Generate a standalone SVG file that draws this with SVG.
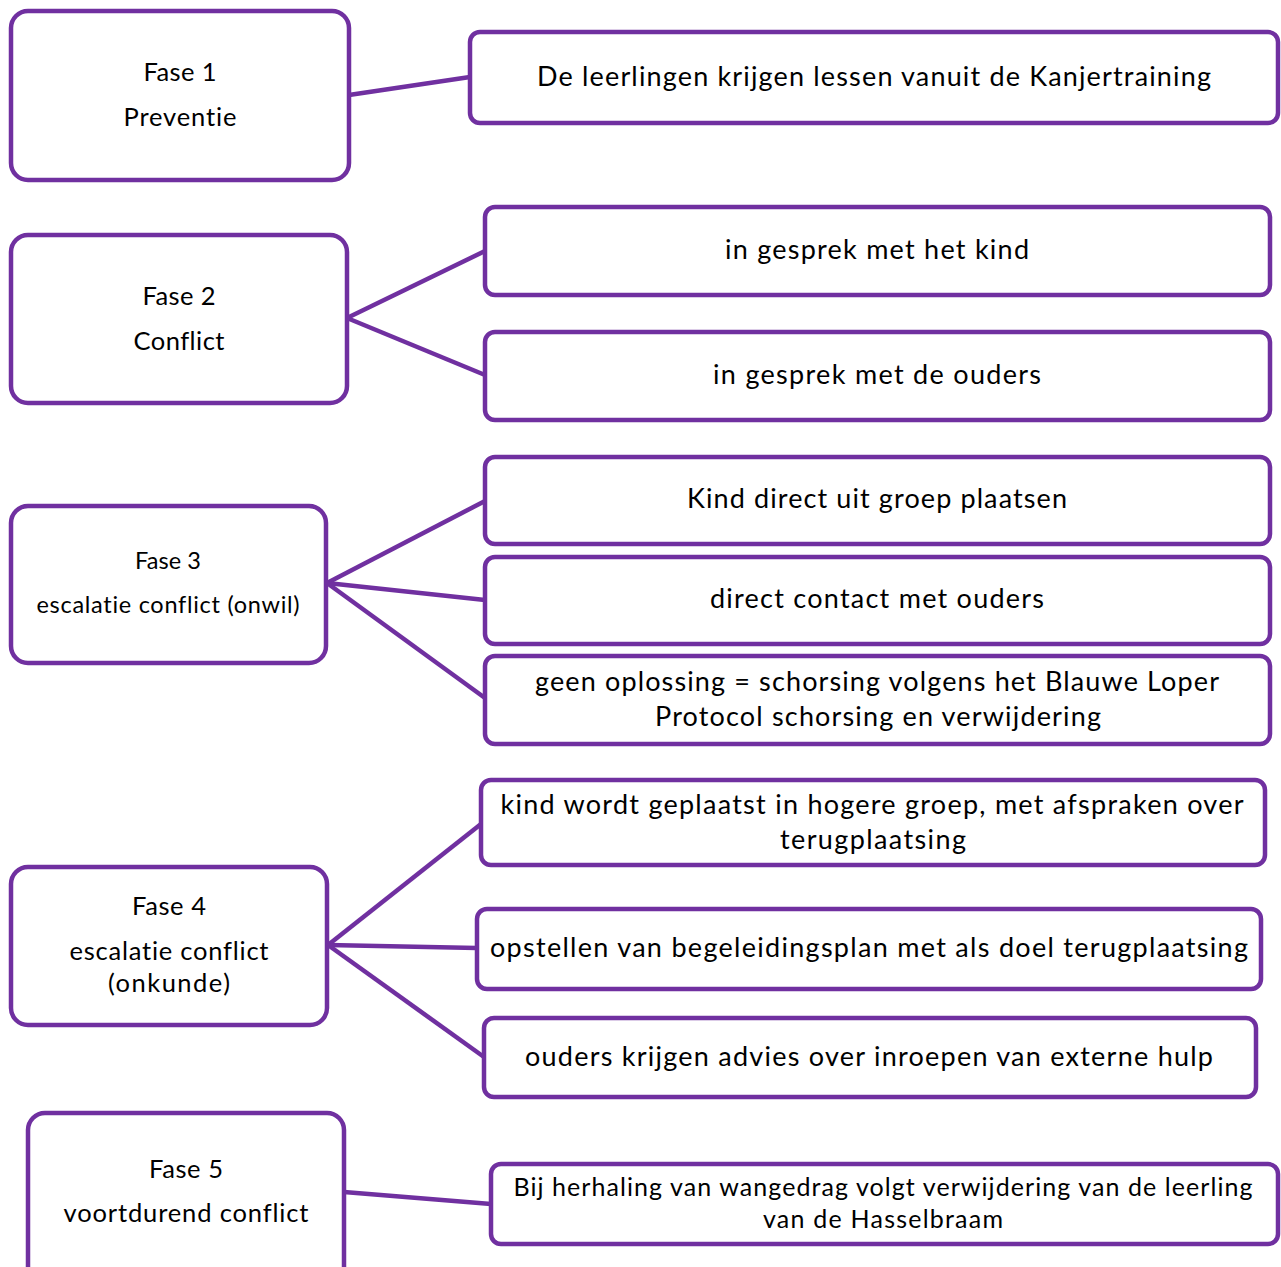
<svg xmlns="http://www.w3.org/2000/svg" width="1281" height="1267" viewBox="0 0 1281 1267">
<style>
.box{fill:#fff;stroke:#7030A0;stroke-width:4.5}
.c{stroke:#7030A0;stroke-width:4.5;fill:none}
text{font-family:Lato,"Open Sans",sans-serif;fill:#000;text-anchor:middle;font-variant-ligatures:none}
.l{font-size:25.5px}
.s{font-size:23.5px}
.r{font-size:27px}
.r2{font-size:25px}
</style>
<rect width="1281" height="1267" fill="#fff"/>
<g id="connectors">
<line class="c" x1="349" y1="95" x2="470" y2="77"/>
<line class="c" x1="347" y1="318" x2="485" y2="251"/>
<line class="c" x1="347" y1="318" x2="485" y2="375"/>
<line class="c" x1="327" y1="583" x2="485" y2="501"/>
<line class="c" x1="327" y1="583" x2="485" y2="600"/>
<line class="c" x1="327" y1="583" x2="485" y2="698"/>
<line class="c" x1="328" y1="945" x2="481" y2="824"/>
<line class="c" x1="328" y1="945" x2="477" y2="948"/>
<line class="c" x1="328" y1="945" x2="484" y2="1057"/>
<line class="c" x1="344" y1="1192" x2="491" y2="1204"/>
</g>
<g id="fase1">
<rect class="box" x="11" y="11" width="338" height="169" rx="17"/>
<text class="l" x="180" y="81" textLength="73">Fase 1</text>
<text class="l" x="180" y="126" textLength="113">Preventie</text>
</g>
<g id="r1">
<rect class="box" x="470" y="32" width="808" height="91" rx="10"/>
<text class="r" x="874" y="86" textLength="674">De leerlingen krijgen lessen vanuit de Kanjertraining</text>
</g>
<g id="fase2">
<rect class="box" x="11" y="235" width="336" height="168" rx="17"/>
<text class="l" x="179" y="305" textLength="73">Fase 2</text>
<text class="l" x="179" y="350" textLength="91">Conflict</text>
</g>
<g id="r2a">
<rect class="box" x="485" y="207" width="785" height="88" rx="10"/>
<text class="r" x="877" y="259" textLength="304">in gesprek met het kind</text>
</g>
<g id="r2b">
<rect class="box" x="485" y="332" width="785" height="88" rx="10"/>
<text class="r" x="877" y="384" textLength="328">in gesprek met de ouders</text>
</g>
<g id="fase3">
<rect class="box" x="11" y="506" width="315" height="157" rx="17"/>
<text class="s" x="168" y="569" textLength="66">Fase 3</text>
<text class="s" x="168" y="613" textLength="263">escalatie conflict (onwil)</text>
</g>
<g id="r3a">
<rect class="box" x="485" y="457" width="785" height="87" rx="10"/>
<text class="r" x="877" y="508" textLength="380">Kind direct uit groep plaatsen</text>
</g>
<g id="r3b">
<rect class="box" x="485" y="557" width="785" height="87" rx="10"/>
<text class="r" x="877" y="608" textLength="334">direct contact met ouders</text>
</g>
<g id="r3c">
<rect class="box" x="485" y="656" width="785" height="88" rx="10"/>
<text class="r" x="877" y="691" textLength="684">geen oplossing = schorsing volgens het Blauwe Loper</text>
<text class="r" x="878" y="726" textLength="446">Protocol schorsing en verwijdering</text>
</g>
<g id="fase4">
<rect class="box" x="11" y="867" width="316" height="158" rx="17"/>
<text class="l" x="169" y="915" textLength="74">Fase 4</text>
<text class="l" x="169" y="960" textLength="199">escalatie conflict</text>
<text class="l" x="169" y="992" textLength="122">(onkunde)</text>
</g>
<g id="r4a">
<rect class="box" x="481" y="780" width="784" height="85" rx="10"/>
<text class="r" x="872" y="814" textLength="743">kind wordt geplaatst in hogere groep, met afspraken over</text>
<text class="r" x="873" y="849" textLength="186">terugplaatsing</text>
</g>
<g id="r4b">
<rect class="box" x="477" y="909" width="784" height="80" rx="10"/>
<text class="r" x="869" y="957" textLength="758">opstellen van begeleidingsplan met als doel terugplaatsing</text>
</g>
<g id="r4c">
<rect class="box" x="484" y="1018" width="772" height="79" rx="10"/>
<text class="r" x="869" y="1066" textLength="688">ouders krijgen advies over inroepen van externe hulp</text>
</g>
<g id="fase5">
<rect class="box" x="28" y="1113" width="316" height="180" rx="17"/>
<text class="l" x="186" y="1178" textLength="74">Fase 5</text>
<text class="l" x="186" y="1222" textLength="245">voortdurend conflict</text>
</g>
<g id="r5">
<rect class="box" x="491" y="1164" width="787" height="80" rx="10"/>
<text class="r2" x="883" y="1196" textLength="739">Bij herhaling van wangedrag volgt verwijdering van de leerling</text>
<text class="r2" x="883" y="1228" textLength="240">van de Hasselbraam</text>
</g>
</svg>
